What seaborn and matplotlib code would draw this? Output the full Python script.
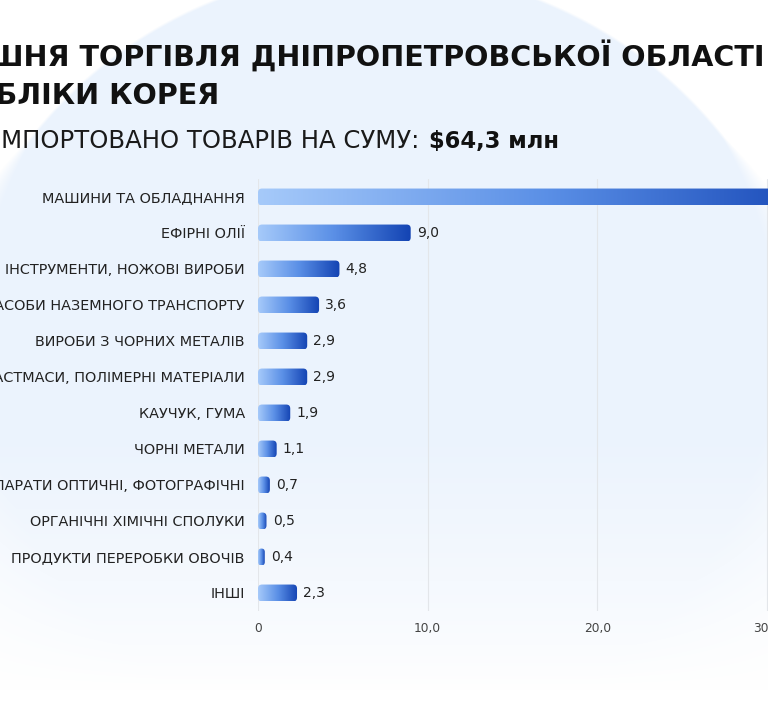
import numpy as np
import pandas as pd
import matplotlib
matplotlib.use("Agg")
import matplotlib.pyplot as plt
import seaborn as sns
from matplotlib.patches import FancyBboxPatch
from matplotlib.colors import LinearSegmentedColormap
from matplotlib.ticker import FuncFormatter

# data (values in $ mln)
categories = [
    "МАШИНИ ТА ОБЛАДНАННЯ",
    "ЕФІРНІ ОЛІЇ",
    "ІНСТРУМЕНТИ, НОЖОВІ ВИРОБИ",
    "ЗАСОБИ НАЗЕМНОГО ТРАНСПОРТУ",
    "ВИРОБИ З ЧОРНИХ МЕТАЛІВ",
    "ПЛАСТМАСИ, ПОЛІМЕРНІ МАТЕРІАЛИ",
    "КАУЧУК, ГУМА",
    "ЧОРНІ МЕТАЛИ",
    "АПАРАТИ ОПТИЧНІ, ФОТОГРАФІЧНІ",
    "ОРГАНІЧНІ ХІМІЧНІ СПОЛУКИ",
    "ПРОДУКТИ ПЕРЕРОБКИ ОВОЧІВ",
    "ІНШІ",
]
values = [34.2, 9.0, 4.8, 3.6, 2.9, 2.9, 1.9, 1.1, 0.7, 0.5, 0.4, 2.3]
x_ticks = [0, 10, 20, 30]

title_line1 = "ЗОВНІШНЯ ТОРГІВЛЯ ДНІПРОПЕТРОВСЬКОЇ ОБЛАСТІ З"
title_line2 = "РЕСПУБЛІКИ КОРЕЯ"
subtitle = "ІМПОРТОВАНО ТОВАРІВ НА СУМУ: "
subtitle_sum = "$64,3 млн"

df = pd.DataFrame({"category": categories, "value": values})

sns.set_theme(style="white")
plt.rcParams["font.family"] = ["DejaVu Sans"]

W, H = 768, 720
fig = plt.figure(figsize=(W / 100, H / 100), dpi=100)
renderer = fig.canvas.get_renderer()

# soft blue circle in the background, its edge blurs and it fades out towards the bottom
bg = fig.add_axes([0, 0, 1, 1], zorder=-10)
yy, xx = np.mgrid[0:H, 0:W]
dist = np.hypot(xx - 377, yy - 409)
soft = 3 + np.clip(yy - 140, 0, None) * 0.35
inside = np.clip((440 - dist) / soft + 0.5, 0, 1)
fade = np.clip((690 - yy) / 260, 0, 1) ** 0.8
t = inside * fade
tint = np.array([235, 243, 253]) / 255
img = 1 - t[..., None] * (1 - tint)
bg.imshow(img, aspect="auto", interpolation="bilinear")
bg.axis("off")


def cut_text(full, skip, x_px, y_px, **kw):
    # place text so that the part after `skip` starts at x_px (the rest falls off the figure)
    probe = fig.text(0, 0, skip, **kw)
    w = probe.get_window_extent(renderer=renderer).width
    probe.remove()
    return fig.text((x_px - w) / W, 1 - y_px / H, full, va="baseline", **kw)


cut_text(title_line1, "ЗОВНІ", -12, 67, fontsize=20.6, fontweight="bold", color="#111111")
cut_text(title_line2, "РЕСПУ", -5, 104, fontsize=20.6, fontweight="bold", color="#111111")
sub = cut_text(subtitle, "І", 1, 148, fontsize=17.6, color="#1a1a1a")
sub_w = sub.get_window_extent(renderer=renderer)
fig.text((sub_w.x1 + 2) / W, 1 - 148 / H, subtitle_sum, va="baseline",
         fontsize=16.3, fontweight="bold", color="#111111")

# main axes: 0 at x=258px, ~16.97px per unit, wider than the figure on purpose
px_unit = (767 - 258) / 30
ax = fig.add_axes([258 / W, 1 - 611 / H, 40 * px_unit / W, 432 / H])
sns.barplot(data=df, x="value", y="category", orient="h", ax=ax, width=0.47)
ax.set_xlim(0, 40)
ax.set_ylim(11.5, -0.5)

cmap = LinearSegmentedColormap.from_list("bar", ["#a6cafa", "#5a8fe6", "#1343b3"])
grad = np.linspace(0, 1, 256).reshape(1, -1)
rx = 4 / px_unit
ry = 4 / 36
for p, v in zip(ax.patches, values):
    x0, y0, w, h = p.get_x(), p.get_y(), p.get_width(), p.get_height()
    p.set_visible(False)
    r = min(rx, w / 2)
    box = FancyBboxPatch((x0, y0), w, h, boxstyle=f"round,pad=0,rounding_size={r}",
                         mutation_aspect=ry / rx, facecolor="none", edgecolor="none")
    ax.add_patch(box)
    im = ax.imshow(grad, cmap=cmap, extent=(x0, x0 + w, y0 + h, y0),
                   aspect="auto", interpolation="bilinear", zorder=3)
    im.set_clip_path(box)
    ax.annotate(f"{v:.1f}".replace(".", ","), (x0 + w, y0 + h / 2),
                xytext=(4.5, 0), textcoords="offset points", va="center",
                fontsize=10, color="#222222")

ax.set_xlim(0, 40)
ax.set_ylim(11.5, -0.5)
ax.set_xticks(x_ticks)
ax.xaxis.set_major_formatter(FuncFormatter(lambda v, _: "0" if v == 0 else f"{v:.1f}".replace(".", ",")))
ax.tick_params(axis="x", length=0, pad=8, labelsize=8.8, labelcolor="#444444")
ax.tick_params(axis="y", length=0, pad=9.5, labelsize=10.4, labelcolor="#222222")
ax.grid(axis="x", color="#e3e6ea", linewidth=0.8)
ax.set_axisbelow(True)
ax.set_xlabel("")
ax.set_ylabel("")
ax.patch.set_alpha(0)
for s in ax.spines.values():
    s.set_visible(False)

plt.savefig("out.png", dpi=100)
